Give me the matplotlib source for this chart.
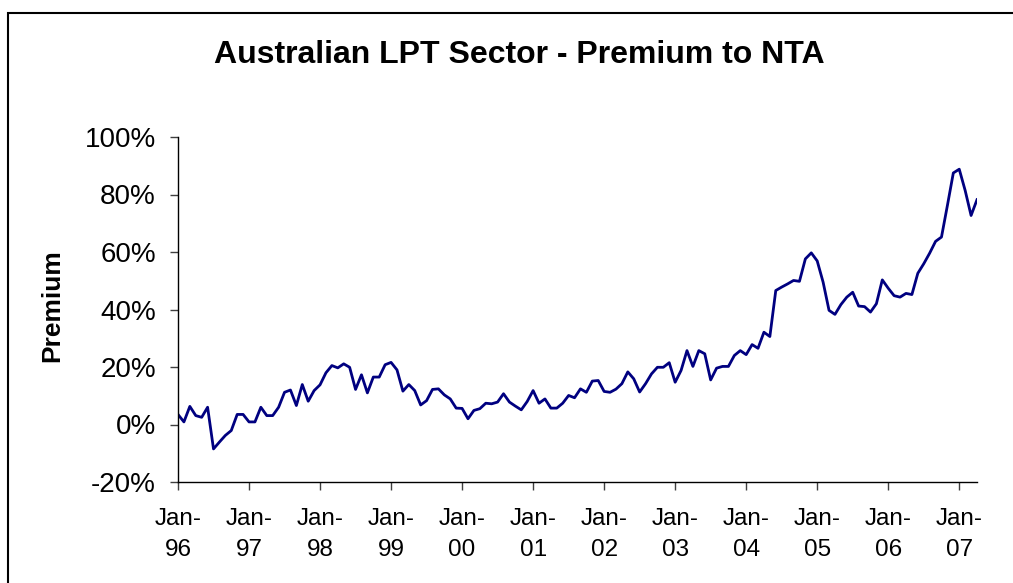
import matplotlib
matplotlib.use('Agg')
import matplotlib.pyplot as plt
from matplotlib.patches import Rectangle

plt.rcParams['font.family'] = ['Liberation Sans', 'DejaVu Sans']

# monthly premium to NTA (%), Jan-96 .. Apr-07
premium = [3.5, 0.9, 6.3, 3.1, 2.5, 6.0, -8.5, -6.1, -3.8, -2.1, 3.5, 3.5,
           0.9, 0.9, 6.0, 3.1, 3.1, 6.0, 11.2, 12.0, 6.6, 13.9, 8.1, 11.8,
           13.8, 18.0, 20.5, 19.7, 21.1, 19.9, 12.2, 17.3, 11.0, 16.5, 16.5, 20.8,
           21.6, 19.0, 11.6, 13.9, 11.8, 6.8, 8.3, 12.2, 12.4, 10.3, 8.9, 5.7,
           5.6, 2.0, 4.9, 5.5, 7.4, 7.2, 7.8, 10.7, 7.8, 6.4, 5.1, 8.0,
           11.8, 7.4, 8.9, 5.7, 5.7, 7.4, 10.1, 9.3, 12.4, 11.2, 15.1, 15.3,
           11.5, 11.2, 12.3, 14.2, 18.3, 15.9, 11.3, 14.2, 17.6, 19.9, 19.9, 21.5,
           14.7, 18.8, 25.7, 20.2, 25.7, 24.6, 15.5, 19.6, 20.2, 20.2, 24.0, 25.7,
           24.3, 27.8, 26.5, 32.1, 30.6, 46.6, 47.8, 48.9, 50.1, 49.8, 57.6, 59.7,
           56.9, 49.5, 39.7, 38.3, 41.7, 44.3, 46.0, 41.2, 41.0, 39.1, 42.0, 50.3,
           47.4, 44.8, 44.3, 45.6, 45.2, 52.6, 55.9, 59.6, 63.7, 65.2, 76.2, 87.5,
           88.8, 81.4, 72.7, 78.2]
months = list(range(len(premium)))

years = ['96', '97', '98', '99', '00', '01', '02', '03', '04', '05', '06', '07']
xtick_pos = [12 * i for i in range(len(years))]
xtick_lab = ['Jan-\n' + y for y in years]

ytick_pos = [-20, 0, 20, 40, 60, 80, 100]
ytick_lab = ['-20%', '0%', '20%', '40%', '60%', '80%', '100%']

fig = plt.figure(figsize=(10.13, 5.83), dpi=100)
ax = fig.add_axes([178/1013, 1-482/583, (977-178)/1013, (482-137)/583])

ax.plot(months, premium, color='#000080', linewidth=2.0)

ax.set_xlim(0, 135)
ax.set_ylim(-20, 100)
ax.set_xticks(xtick_pos)
ax.set_xticklabels(xtick_lab, fontsize=17.5, linespacing=1.5)
ax.set_yticks(ytick_pos)
ax.set_yticklabels(ytick_lab, fontsize=20)

for s in ['top', 'right']:
    ax.spines[s].set_visible(False)
for s in ['left', 'bottom']:
    ax.spines[s].set_linewidth(1.0)
    ax.spines[s].set_color('black')
ax.tick_params(axis='both', direction='out', length=6, width=1.0, color='#404040')
ax.tick_params(axis='y', pad=10)
ax.tick_params(axis='x', pad=13)

# y axis title
fig.text(52/1013, 1-306/583, 'Premium', rotation=90, ha='center', va='center',
         fontsize=19, fontweight='bold')

fig.text(519/1013, 1-55/583, 'Australian LPT Sector - Premium to NTA',
         ha='center', va='center', fontsize=23, fontweight='bold')

fig.patches.append(Rectangle((8/1013, -0.05), 1.1, 1-13/583+0.05,
                             transform=fig.transFigure, fill=False,
                             edgecolor='black', linewidth=1.5))

fig.savefig('out.png', dpi=100)
